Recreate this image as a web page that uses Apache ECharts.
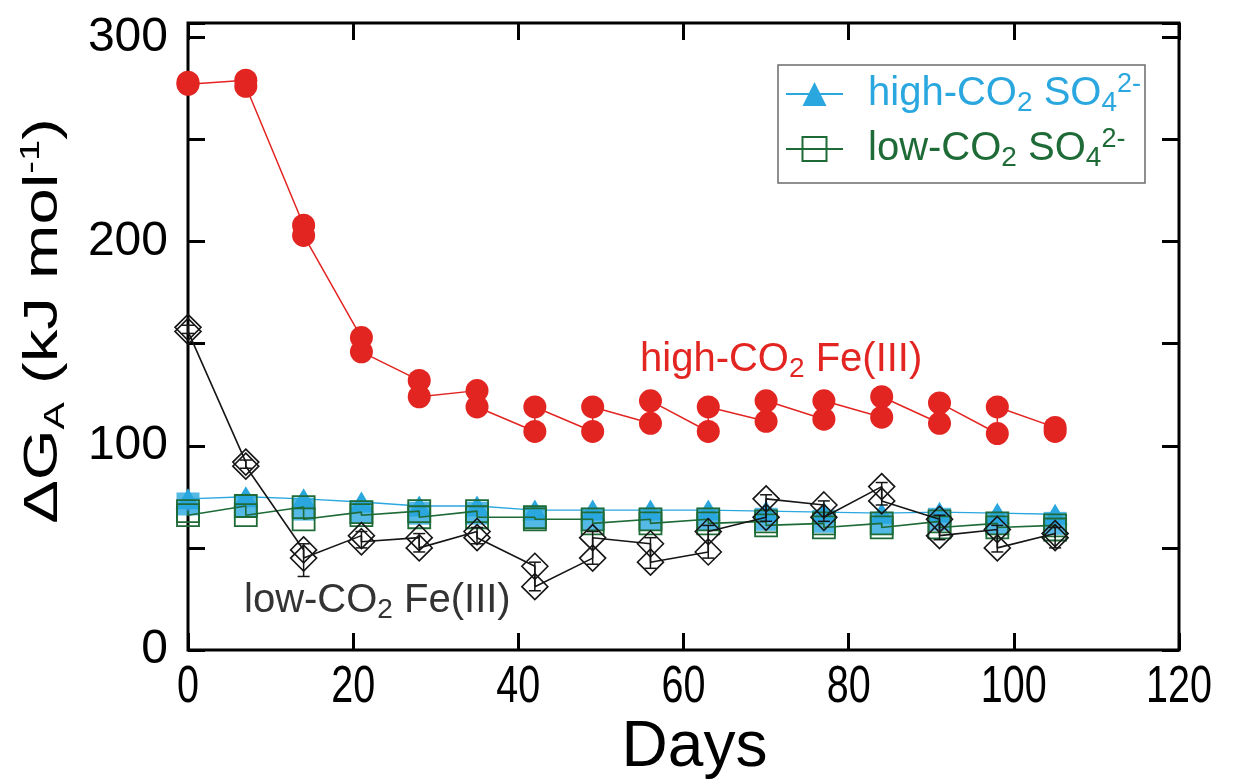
<!DOCTYPE html>
<html>
<head>
<meta charset="utf-8">
<script src="https://cdn.jsdelivr.net/npm/echarts@6/dist/echarts.min.js"></script>
<style>
html,body{margin:0;padding:0;background:#fff;}
#chart{width:1237px;height:780px;}
</style>
</head>
<body>
<div id="chart"></div>
<script>
// ---- data ----
const days = [0, 7, 14, 21, 28, 35, 42, 49, 56, 63, 70, 77, 84, 91, 98, 105];

// high-CO2 Fe(III): two replicates per day, in the order the line passes through them
const highFeFirst  = [278, 279, 208, 153, 132, 127, 107, 107, 111, 107, 112, 113, 114, 111, 106, 109];
const highFeSecond = [277, 276, 203, 146, 124, 119, 119, 119, 122, 119, 122, 122, 124, 121, 119, 107];

// low-CO2 Fe(III): two replicates per day + error bar ends
const lowFeFirst  = [158, 92, 49, 56, 55, 58, 41, 45, 52, 48, 65, 71, 80, 64, 59, 57];
const lowFeSecond = [156, 90, 45, 53, 50, 55, 31, 55, 43, 58, 74, 65, 73, 56, 50, 55];
const lowFeBarLo  = [155, 89, 36, 50, 48, 52, 29, 42, 40, 45, 63, 63, 71, 54, 48, 50];
const lowFeBarHi  = [159, 93, 52, 58, 57, 60, 43, 58, 55, 61, 76, 73, 82, 66, 61, 60];

// high-CO2 SO4(2-): triangles and filled squares
const highSO4Tri = [74, 75, 74, 72.5, 70.5, 70.5, 68.5, 68.5, 68.5, 68.5, 68, 67.5, 67, 67.5, 67, 66.5];
const highSO4Sq  = [71.5, 70.5, 69, 67.5, 67, 67, 65, 64, 64, 64, 64, 63, 62, 64, 62, 62];

// low-CO2 SO4(2-): open squares, two replicates
const lowSO4First  = [68, 70.5, 70, 67.5, 68, 68, 65, 64, 64, 64, 63, 62, 62, 63, 62, 61];
const lowSO4Second = [66, 66, 64, 66, 65, 65, 64, 62, 62, 62, 61, 60, 60, 60, 60, 59];

const xTicks = [0, 20, 40, 60, 80, 100, 120];
const yTicks = [0, 100, 200, 300];

// ---- helpers ----
function interleave(a, b) {
  const out = [];
  days.forEach((d, i) => { out.push([d, a[i]]); out.push([d, b[i]]); });
  return out;
}
function pairs(a) { return days.map((d, i) => [d, a[i]]); }

const RED = '#e32522', BLUE = '#2aa7df', GREEN = '#1e6b37', BLACK = '#161616';
const SANS = "'Liberation Sans', Arial, Helvetica, sans-serif";

const chart = echarts.init(document.getElementById('chart'), null, {renderer: 'canvas'});

function axisCommon() {
  return {
    type: 'value',
    axisLine: {show: false, onZero: false},
    splitLine: {show: false},
    axisTick: {show: true, inside: true, length: 17, lineStyle: {color: '#000', width: 3}}
  };
}

const legendRich = {
  n0: {fontSize: 40, fontFamily: SANS, lineHeight: 46, padding: [0, 0, 0, 20]},
  n:  {fontSize: 40, fontFamily: SANS, lineHeight: 46},
  s:  {fontSize: 28, fontFamily: SANS, lineHeight: 4, verticalAlign: 'bottom'},
  p:  {fontSize: 27, fontFamily: SANS, lineHeight: 18, verticalAlign: 'top'}
};

const baseGraphics = [
  {
    type: 'text', x: 44, y: 321, rotation: Math.PI / 2, scaleX: 1.36,
    style: {
      text: '{n|ΔG}{s|A}{n| (kJ mol}{p|-1}{n|)}',
      align: 'center', verticalAlign: 'middle', fill: '#000',
      rich: {
        n: {fontSize: 48, fontFamily: SANS, lineHeight: 54, fill: '#000'},
        s: {fontSize: 30, fontFamily: SANS, lineHeight: 10, verticalAlign: 'bottom', fill: '#000'},
        p: {fontSize: 28, fontFamily: SANS, lineHeight: 22, verticalAlign: 'top', fill: '#000'}
      }
    }
  },
  {
    type: 'text', x: 640, y: 360,
    style: {
      text: '{n|high-CO}{s|2}{n| Fe(III)}',
      align: 'left', verticalAlign: 'middle',
      rich: {
        n: {fontSize: 40, fontFamily: SANS, lineHeight: 46, fill: RED},
        s: {fontSize: 28, fontFamily: SANS, lineHeight: 4, verticalAlign: 'bottom', fill: RED}
      }
    }
  },
  {
    type: 'text', x: 244, y: 601,
    style: {
      text: '{n|low-CO}{s|2}{n| Fe(III)}',
      align: 'left', verticalAlign: 'middle',
      rich: {
        n: {fontSize: 40, fontFamily: SANS, lineHeight: 46, fill: '#333'},
        s: {fontSize: 28, fontFamily: SANS, lineHeight: 4, verticalAlign: 'bottom', fill: '#333'}
      }
    }
  }
];

const option = {
  animation: false,
  backgroundColor: '#fff',
  grid: {left: 188, right: 58, top: 23, bottom: 130, containLabel: false, outerBoundsMode: 'none',
         show: true, borderColor: '#000', borderWidth: 3, backgroundColor: 'transparent'},
  xAxis: [
    Object.assign(axisCommon(), {
      min: 0, max: 120, interval: 20,
      axisLabel: {show: false},
      name: 'Days', nameLocation: 'middle', nameGap: 66,
      nameTextStyle: {fontSize: 64, fontFamily: SANS, color: '#000', padding: [0, 0, 0, 22]}
    }),
    Object.assign(axisCommon(), {position: 'top', min: 0, max: 120, interval: 20, axisLabel: {show: false}})
  ],
  yAxis: [
    Object.assign(axisCommon(), {
      min: 0, max: 307, interval: 50,
      axisLabel: {show: true, margin: 20, fontSize: 48, fontFamily: SANS, color: '#000',
        formatter: v => (yTicks.indexOf(v) >= 0 ? String(v) : '')}
    }),
    Object.assign(axisCommon(), {position: 'right', min: 0, max: 307, interval: 50, axisLabel: {show: false}})
  ],
  legend: {
    orient: 'vertical', left: 778, top: 65,
    padding: [6, 4, 11, 7],
    itemGap: 9, itemWidth: 57, itemHeight: 30,
    borderColor: '#6b6b6b', borderWidth: 1.5, backgroundColor: '#fff',
    data: [
      {name: 'high-CO2 SO42-', textStyle: {color: BLUE}},
      {name: 'low-CO2 SO42-', textStyle: {color: GREEN}}
    ],
    textStyle: {rich: legendRich},
    formatter: name => name.indexOf('high') === 0
      ? '{n0|high-CO}{s|2}{n| SO}{s|4}{p|2-}'
      : '{n0|low-CO}{s|2}{n| SO}{s|4}{p|2-}'
  },
  graphic: baseGraphics,
  series: [
    {
      name: 'high-CO2 SO42- (filled squares)', type: 'scatter', data: pairs(highSO4Sq),
      symbol: 'rect', symbolSize: 23, itemStyle: {color: BLUE}, z: 2
    },
    {
      name: 'high-CO2 SO42-', type: 'line', data: pairs(highSO4Tri),
      symbol: 'triangle', symbolSize: [25, 21], showAllSymbol: true,
      itemStyle: {color: BLUE}, lineStyle: {color: BLUE, width: 1.4}, z: 3
    },
    {
      name: 'low-CO2 SO42-', type: 'line', data: interleave(lowSO4First, lowSO4Second),
      symbol: 'rect', symbolSize: 22, showAllSymbol: true,
      itemStyle: {color: 'rgba(0,0,0,0)', borderColor: GREEN, borderWidth: 1.8},
      lineStyle: {color: GREEN, width: 1.6}, z: 4
    },
    {
      name: 'low-CO2 Fe(III) error', type: 'custom', z: 5,
      data: days.map((d, i) => [d, lowFeBarLo[i], lowFeBarHi[i]]),
      renderItem: (params, api) => {
        const lo = api.coord([api.value(0), api.value(1)]);
        const hi = api.coord([api.value(0), api.value(2)]);
        const w = 6;
        const st = {stroke: BLACK, lineWidth: 1.5};
        return {type: 'group', children: [
          {type: 'line', shape: {x1: lo[0], y1: lo[1], x2: hi[0], y2: hi[1]}, style: st},
          {type: 'line', shape: {x1: lo[0] - w, y1: lo[1], x2: lo[0] + w, y2: lo[1]}, style: st},
          {type: 'line', shape: {x1: hi[0] - w, y1: hi[1], x2: hi[0] + w, y2: hi[1]}, style: st}
        ]};
      }
    },
    {
      name: 'low-CO2 Fe(III)', type: 'line', data: interleave(lowFeFirst, lowFeSecond),
      symbol: 'diamond', symbolSize: 26, showAllSymbol: true,
      itemStyle: {color: 'rgba(0,0,0,0)', borderColor: BLACK, borderWidth: 1.6},
      lineStyle: {color: BLACK, width: 1.6}, z: 6
    },
    {
      name: 'high-CO2 Fe(III)', type: 'line', data: interleave(highFeFirst, highFeSecond),
      symbol: 'circle', symbolSize: 23, showAllSymbol: true,
      itemStyle: {color: RED}, lineStyle: {color: RED, width: 1.5}, z: 7
    }
  ]
};
chart.setOption(option);

// x tick labels: condensed text placed at the axis' own tick positions
const yBottom = chart.convertToPixel({yAxisIndex: 0}, 0);
const xLabelGraphics = xTicks.map(v => ({
  type: 'text',
  x: chart.convertToPixel({xAxisIndex: 0}, v),
  y: yBottom + 38,
  scaleX: 0.76,
  style: {text: String(v), fontSize: 52, fontFamily: SANS, fill: '#000', align: 'center', verticalAlign: 'middle'}
}));
chart.setOption({graphic: baseGraphics.concat(xLabelGraphics)});
</script>
</body>
</html>
